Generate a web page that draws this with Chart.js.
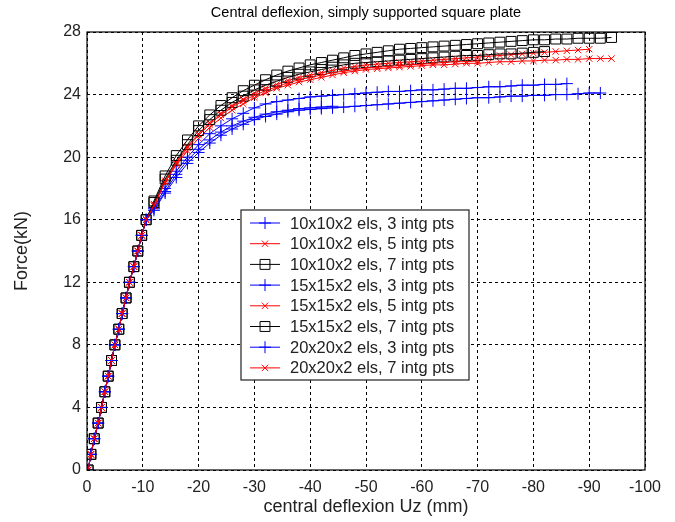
<!DOCTYPE html>
<html>
<head>
<meta charset="utf-8">
<script src="https://cdn.jsdelivr.net/npm/chart.js@4"></script>
<style>
  body { margin:0; background:#fff; }
  #wrap { width:675px; height:522px; }
</style>
</head>
<body>
<div id="wrap"><canvas id="plate" width="675" height="522"></canvas></div>
<script>
// Central deflexion of a simply supported square plate, force vs Uz
const FONT = '"Liberation Sans", Arial, Helvetica, sans-serif';

const seriesLabels = [
  '10x10x2 els, 3 intg pts',
  '10x10x2 els, 5 intg pts',
  '10x10x2 els, 7 intg pts',
  '15x15x2 els, 3 intg pts',
  '15x15x2 els, 5 intg pts',
  '15x15x2 els, 7 intg pts',
  '20x20x2 els, 3 intg pts',
  '20x20x2 els, 7 intg pts',
];

// linear part, shared by every run (kN, mm)
const linForce = [0,1,2,3,4,5,6,7,8,9,10,11,12,13,14,15,16];
const linUz    = [-0.2,-0.7,-1.3,-2.0,-2.6,-3.2,-3.8,-4.4,-5.0,-5.7,-6.3,-7.0,-7.6,-8.4,-9.1,-9.8,-10.6];

// post-linear part: deflexion steps, force per run (runs stop at different Uz)
const uzGrid = [-12,-14,-16,-18,-20,-22,-24,-26,-28,-30,-32,-34,-36,-38,-40,-42,-44,-46,-48,-50,
                -52,-54,-56,-58,-60,-62,-64,-66,-68,-70,-72,-74,-76,-78,-80,-82,-84,-86,-88,-90,-92,-94];

const f10_3 = [16.8,18.0,19.1,20.0,20.8,21.5,22.0,22.45,22.8,23.15,23.4,23.55,23.65,23.75,23.85,23.9,23.95,24.0,24.05,24.1,
               24.15,24.2,24.2,24.25,24.3,24.3,24.35,24.4,24.4,24.45,24.5,24.5,24.55,24.6,24.6,24.65,24.65,24.7];
const f10_5 = [17.0,18.5,19.7,20.7,21.5,22.2,22.8,23.3,23.7,24.1,24.4,24.65,24.9,25.1,25.25,25.4,25.55,25.7,25.8,25.9,
               25.95,26.0,26.05,26.1,26.15,26.2,26.25,26.3,26.35,26.4,26.45,26.5,26.55,26.6,26.65,26.7,26.75,26.8,26.85,26.9];
const f10_7 = [17.2,18.8,20.1,21.1,22.0,22.7,23.3,23.8,24.25,24.6,24.95,25.25,25.5,25.7,25.9,26.05,26.2,26.35,26.5,26.6,
               26.7,26.8,26.9,26.95,27.0,27.05,27.1,27.15,27.2,27.25,27.3,27.35,27.4,27.45,27.5,27.5,27.55,27.55,27.6,27.6,27.6,27.65];
const f15_3 = [16.6,17.7,18.7,19.6,20.3,20.9,21.4,21.8,22.1,22.4,22.6,22.75,22.9,23.0,23.05,23.1,23.15,23.2,23.25,23.3,
               23.35,23.4,23.45,23.5,23.55,23.6,23.65,23.7,23.75,23.8,23.8,23.85,23.9,23.9,23.95,23.95,24.0,24.0,24.05,24.1,24.1];
const f15_5 = [16.9,18.4,19.5,20.4,21.2,21.9,22.5,23.0,23.4,23.8,24.1,24.4,24.6,24.8,24.95,25.1,25.25,25.4,25.5,25.6,
               25.65,25.7,25.75,25.8,25.85,25.9,25.9,25.95,26.0,26.0,26.05,26.1,26.1,26.15,26.15,26.2,26.2,26.25,26.25,26.3,26.3,26.3];
const f15_7 = [17.1,18.6,19.8,20.8,21.7,22.4,23.0,23.5,23.9,24.3,24.6,24.85,25.1,25.3,25.45,25.6,25.75,25.9,26.0,26.05,
               26.1,26.15,26.2,26.25,26.3,26.35,26.4,26.45,26.5,26.5,26.55,26.6,26.6,26.65,26.7,26.75];
const f20_3 = [16.7,17.8,18.9,19.8,20.5,21.1,21.6,22.0,22.3,22.55,22.75,22.9,23.0,23.1,23.15,23.2,23.25];
const f20_7 = [16.9,18.4,19.6,20.6,21.4,22.1,22.7,23.2,23.6,23.95,24.25,24.5,24.75,24.95,25.1,25.25,25.4,25.5,25.6,25.7,
               25.75,25.8,25.85,25.9,25.95,26.0,26.05,26.1,26.1,26.15];

const runForces = [f10_3, f10_5, f10_7, f15_3, f15_5, f15_7, f20_3, f20_7];

// matlab-ish line specs: b-+, r-x, k-s
const runStyles = [
  { color:'#0000ff', marker:'cross',    r:6 },
  { color:'#ff0000', marker:'crossRot', r:4.5 },
  { color:'#000000', marker:'rect',     r:7 },
  { color:'#0000ff', marker:'cross',    r:6 },
  { color:'#ff0000', marker:'crossRot', r:4.5 },
  { color:'#000000', marker:'rect',     r:7 },
  { color:'#0000ff', marker:'cross',    r:6 },
  { color:'#ff0000', marker:'crossRot', r:4.5 },
];

function runPoints(forces) {
  const pts = linUz.map((u, i) => ({ x: u, y: linForce[i] }));
  forces.forEach((f, i) => pts.push({ x: uzGrid[i], y: f }));
  return pts;
}

const datasets = runForces.map((f, i) => {
  const st = runStyles[i];
  return {
    label: seriesLabels[i],
    data: runPoints(f),
    borderColor: st.color,
    borderWidth: 1,
    pointStyle: st.marker,
    pointRadius: st.r,
    pointBorderColor: st.color,
    pointBackgroundColor: 'rgba(0,0,0,0)',
    pointBorderWidth: 1,
    tension: 0,
    order: runForces.length - i,   // later runs on top, like matlab
  };
});

const frameAndTitle = {
  id: 'frameAndTitle',
  afterDatasetsDraw(chart) {
    const { ctx, chartArea: a } = chart;
    ctx.save();
    ctx.strokeStyle = '#000';
    ctx.lineWidth = 1.2;
    ctx.strokeRect(a.left, a.top, a.right - a.left, a.bottom - a.top);
    ctx.fillStyle = '#000';
    ctx.font = '14.5px ' + FONT;
    ctx.textAlign = 'center';
    ctx.textBaseline = 'middle';
    ctx.fillText('Central deflexion, simply supported square plate', (a.left + a.right) / 2, 13);
    ctx.restore();
  }
};

const insideLegend = {
  id: 'insideLegend',
  afterDraw(chart) {
    const { ctx, chartArea: a } = chart;
    const x0 = a.left + 154, y0 = a.top + 178, w = 228, h = 170;
    ctx.save();
    ctx.fillStyle = '#fff';
    ctx.fillRect(x0, y0, w, h);
    ctx.strokeStyle = '#222';
    ctx.lineWidth = 1.2;
    ctx.strokeRect(x0, y0, w, h);
    chart.data.datasets.forEach((ds, i) => {
      const y = y0 + 13 + i * 20.7;
      ctx.strokeStyle = ds.borderColor;
      ctx.lineWidth = 1;
      ctx.beginPath(); ctx.moveTo(x0 + 9, y); ctx.lineTo(x0 + 39, y); ctx.stroke();
      ctx.fillStyle = 'rgba(0,0,0,0)';
      Chart.helpers.drawPoint(ctx, { pointStyle: ds.pointStyle, radius: ds.pointRadius, borderWidth: 1, rotation: 0 }, x0 + 24, y);
      ctx.fillStyle = '#222';
      ctx.font = '16.5px ' + FONT;
      ctx.textAlign = 'left';
      ctx.textBaseline = 'middle';
      ctx.fillText(ds.label, x0 + 49, y + 1);
    });
    ctx.restore();
  }
};

new Chart(document.getElementById('plate'), {
  type: 'line',
  data: { datasets },
  plugins: [frameAndTitle, insideLegend],
  options: {
    responsive: false,
    animation: false,
    layout: { padding: { top: 32, right: 30, left: 0, bottom: 0 } },
    plugins: { legend: { display: false }, tooltip: { enabled: false }, title: { display: false } },
    scales: {
      x: {
        type: 'linear', min: -100, max: 0, reverse: true,
        ticks: { stepSize: 10, color: '#222', font: { size: 16, family: FONT }, padding: 8, maxRotation: 0 },
        grid: { color: '#000', lineWidth: 1, drawTicks: false },
        border: { display: false, dash: [3, 3] },
        title: { display: true, text: 'central deflexion Uz (mm)', color: '#222', font: { size: 18, family: FONT }, padding: { top: 0, bottom: 4 } },
        afterFit: s => { s.height = 52; }
      },
      y: {
        type: 'linear', min: 0, max: 28,
        ticks: { stepSize: 4, color: '#222', font: { size: 16, family: FONT }, padding: 6 },
        grid: { color: '#000', lineWidth: 1, drawTicks: false },
        border: { display: false, dash: [3, 3] },
        title: { display: true, text: 'Force(kN)', color: '#222', font: { size: 18, family: FONT }, padding: { top: 11, bottom: 0 } },
        afterFit: s => { s.width = 87; }
      }
    }
  }
});
</script>
</body>
</html>
